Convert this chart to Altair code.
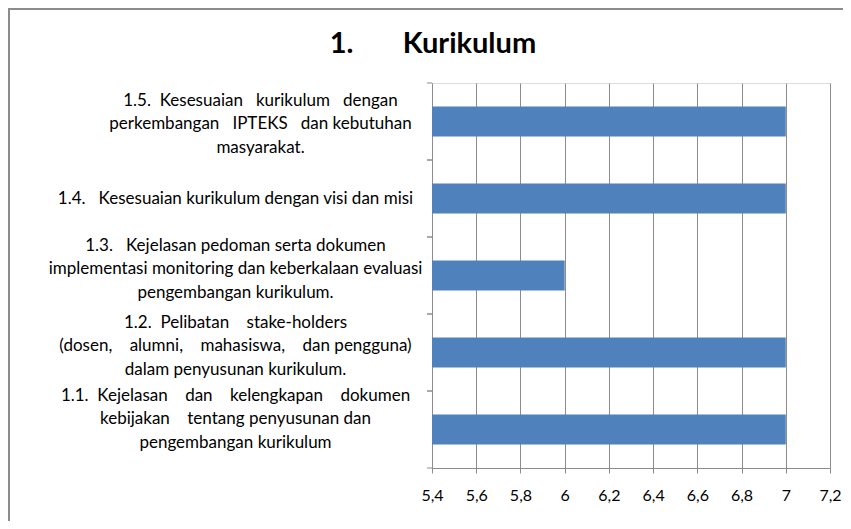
import altair as alt
import pandas as pd

NB = "\u00a0"

# Category labels ("|" = line break), top to bottom
labels = [
    "1.5.  Kesesuaian   kurikulum   dengan|perkembangan   IPTEKS   dan kebutuhan|masyarakat.",
    "1.4.   Kesesuaian kurikulum dengan visi dan misi",
    "1.3.   Kejelasan pedoman serta dokumen|implementasi monitoring dan keberkalaan evaluasi|pengembangan kurikulum.",
    "1.2.  Pelibatan    stake-holders|(dosen,    alumni,    mahasiswa,    dan pengguna)|dalam penyusunan kurikulum.",
    "1.1.  Kejelasan    dan    kelengkapan    dokumen|kebijakan    tentang penyusunan dan|pengembangan kurikulum",
]
values = [7, 7, 6, 7, 7]
x_ticks = [5.4, 5.6, 5.8, 6.0, 6.2, 6.4, 6.6, 6.8, 7.0, 7.2]
title_text = "1." + NB * 7 + "Kurikulum"

cats = [l.replace(" ", NB) for l in labels]
df = pd.DataFrame({"cat": cats, "value": values})

W, H = 398, 385
PL, PT, PR, PB = 424, 75, 13, 53
FONT = "Lato"
GRAY = "#8c8c8c"

yscale = alt.Scale(domain=cats, paddingInner=0, paddingOuter=0)
xscale = alt.Scale(domain=[5.4, 7.2], nice=False, zero=False)

bars = alt.Chart(df).mark_bar(
    height=alt.RelativeBandSize(0.39), color="#4F81BD"
).encode(
    x=alt.X(
        "value:Q",
        scale=xscale,
        axis=alt.Axis(
            values=x_ticks,
            title=None,
            grid=True,
            gridColor=GRAY,
            gridWidth=1,
            domainColor=GRAY,
            tickColor=GRAY,
            tickSize=5,
            labelFont=FONT,
            labelFontSize=16,
            labelColor="black",
            labelPadding=14,
            labelFlush=False,
            labelExpr="replace(format(datum.value, '.1~f'), '.', ',')",
        ),
    ),
    x2=alt.datum(5.4),
    y=alt.Y(
        "cat:N",
        scale=yscale,
        sort=cats,
        axis=alt.Axis(
            title=None,
            ticks=False,
            grid=False,
            domainColor=GRAY,
            labelFont=FONT,
            labelFontSize=17,
            labelColor="black",
            labelAlign="center",
            labelBaseline="middle",
            labelPadding={
                "condition": {"test": "indexof(datum.value, '1.5.') == 0", "value": 172},
                "value": 197,
            },
            labelLimit=0,
            labelLineHeight=23.5,
            labelOffset={
                "condition": [
                    {"test": "indexof(datum.value, '1.5.') == 0", "value": -21},
                    {"test": "indexof(datum.value, '1.1.') == 0", "value": -34},
                    {"test": "indexof(datum.value, '|') >= 0", "value": -30},
                ],
                "value": 0,
            },
            labelExpr="split(datum.label, '|')",
        ),
    ),
)

ticks0 = alt.Chart(df).mark_rule(color=GRAY, strokeWidth=1).encode(
    y=alt.Y("cat:N", scale=yscale, sort=cats, bandPosition=0),
    x=alt.value(-5),
    x2=alt.value(0),
)
ticks1 = alt.Chart(df).mark_rule(color=GRAY, strokeWidth=1).encode(
    y=alt.Y("cat:N", scale=yscale, sort=cats, bandPosition=1),
    x=alt.value(-5),
    x2=alt.value(0),
)

title_df = pd.DataFrame({"t": [title_text]})
title = alt.Chart(title_df).mark_text(
    font=FONT, fontSize=29, fontWeight="bold", color="black",
    align="center", baseline="alphabetic",
).encode(
    text="t:N",
    x=alt.value(1),
    y=alt.value(-30),
)

frame_df = pd.DataFrame({"a": [0]})
left_border = alt.Chart(frame_df).mark_rule(color=GRAY, strokeWidth=2).encode(
    x=alt.value(-PL + 1),
    y=alt.value(-PT),
    y2=alt.value(H + PB),
)
top_border = alt.Chart(frame_df).mark_rule(color=GRAY, strokeWidth=2).encode(
    y=alt.value(-PT + 1),
    x=alt.value(-PL),
    x2=alt.value(W + PR),
)

chart = alt.layer(bars, ticks0, ticks1, title, left_border, top_border).properties(
    width=W,
    height=H,
    padding={"left": PL, "top": PT, "right": PR, "bottom": PB},
    autosize=alt.AutoSizeParams(type="none"),
).configure_view(stroke=None).configure(background="white")

chart.save("out.html", embed_options={"renderer": "svg", "actions": False})
